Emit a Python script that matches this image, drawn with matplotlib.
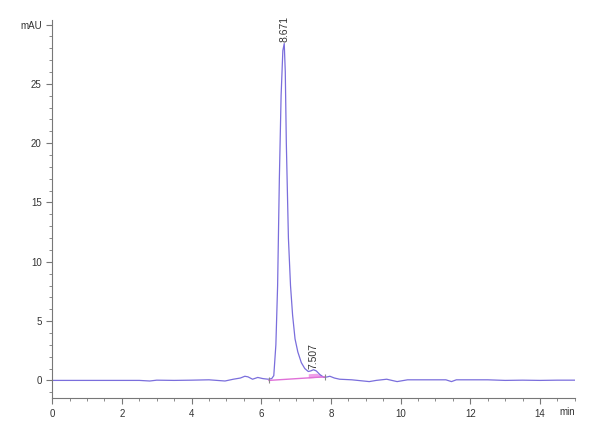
import matplotlib
matplotlib.use("Agg")
import matplotlib.pyplot as plt
from matplotlib.ticker import MultipleLocator

plt.rcParams['font.family'] = ['Liberation Sans', 'DejaVu Sans']

# chromatogram trace (min, mAU)
time = [0.0, 1.0, 2.0, 2.5, 2.8, 3.0, 3.5, 4.0, 4.5, 4.96, 5.2, 5.4, 5.53, 5.62,
        5.75, 5.9, 6.05, 6.2, 6.3, 6.36, 6.42, 6.47, 6.52, 6.57, 6.62, 6.66,
        6.69, 6.72, 6.78, 6.84, 6.9, 6.97, 7.05, 7.15, 7.25, 7.35, 7.42, 7.5,
        7.58, 7.68, 7.8, 7.9, 7.97, 8.1, 8.25, 8.6, 9.1, 9.3, 9.6, 9.9, 10.2,
        10.8, 11.3, 11.46, 11.6, 12.0, 12.5, 13.0, 13.5, 14.0, 14.5, 15.0]
signal = [0.0, 0.0, 0.0, 0.0, -0.05, 0.02, 0.0, 0.02, 0.05, -0.05, 0.1, 0.2, 0.35, 0.3,
          0.1, 0.25, 0.15, 0.1, 0.15, 0.4, 3.0, 8.0, 17.0, 24.0, 27.8, 28.4,
          26.0, 20.0, 12.0, 8.0, 5.5, 3.5, 2.4, 1.5, 1.0, 0.75, 0.8, 0.9,
          0.8, 0.5, 0.25, 0.3, 0.35, 0.2, 0.1, 0.05, -0.1, 0.0, 0.1, -0.1, 0.05,
          0.05, 0.05, -0.1, 0.05, 0.05, 0.05, 0.0, 0.02, 0.0, 0.02, 0.02]

# integration baseline and peak labels
base_t = [6.22, 7.82]
base_y = [0.0, 0.3]
peak_t = [6.671, 7.507]
peak_y = [28.4, 0.9]
peak_lbl = ['8.671', '7.507']

fig = plt.figure(figsize=(6, 4.4), dpi=100)
ax = fig.add_axes([0.087, 0.095, 0.871, 0.86])

ax.plot(time, signal, color='#7a6edc', lw=0.9)
ax.plot(base_t, base_y, color='#e070d8', lw=1.0)
ax.plot(base_t, base_y, ls='none', marker='|', ms=5, color='#888888', mew=0.8)

# shaded area under the small peak
fill_t = [t for t in time if 7.3 <= t <= 7.82]
fill_s = [s for t, s in zip(time, signal) if 7.3 <= t <= 7.82]
fill_b = [base_y[0] + (base_y[1] - base_y[0]) * (t - base_t[0]) / (base_t[1] - base_t[0]) for t in fill_t]
ax.fill_between(fill_t, fill_b, [min(s, b + 0.35) for s, b in zip(fill_s, fill_b)], color='#f0a0e8', lw=0)

for t, y, l in zip(peak_t, peak_y, peak_lbl):
    ax.text(t, y + 0.1, l, rotation=90, ha='center', va='bottom', fontsize=7.5, color='#333333')

ax.set_xlim(0, 15)
ax.set_ylim(-1.5, 30.4)
ax.spines['top'].set_visible(False)
ax.spines['right'].set_visible(False)
for s in ['left', 'bottom']:
    ax.spines[s].set_color('#777777')
    ax.spines[s].set_linewidth(0.8)

ax.set_xticks(range(0, 15, 2))
ax.set_xticklabels([str(v) for v in range(0, 15, 2)])
ax.xaxis.set_minor_locator(MultipleLocator(0.5))
ax.set_yticks([0, 5, 10, 15, 20, 25, 30])
ax.set_yticklabels(['0', '5', '10', '15', '20', '25', 'mAU'])
ax.yaxis.set_minor_locator(MultipleLocator(1))
ax.tick_params(which='major', length=4, width=0.8, color='#777777', labelsize=7, labelcolor='#333333')
ax.tick_params(which='minor', length=2.5, width=0.6, color='#777777')

ax.annotate('min', xy=(15, 0), xycoords=('data', 'axes fraction'), xytext=(0, -6),
            textcoords='offset points', ha='right', va='top', fontsize=7, color='#333333')

fig.savefig('out.png', dpi=100)
